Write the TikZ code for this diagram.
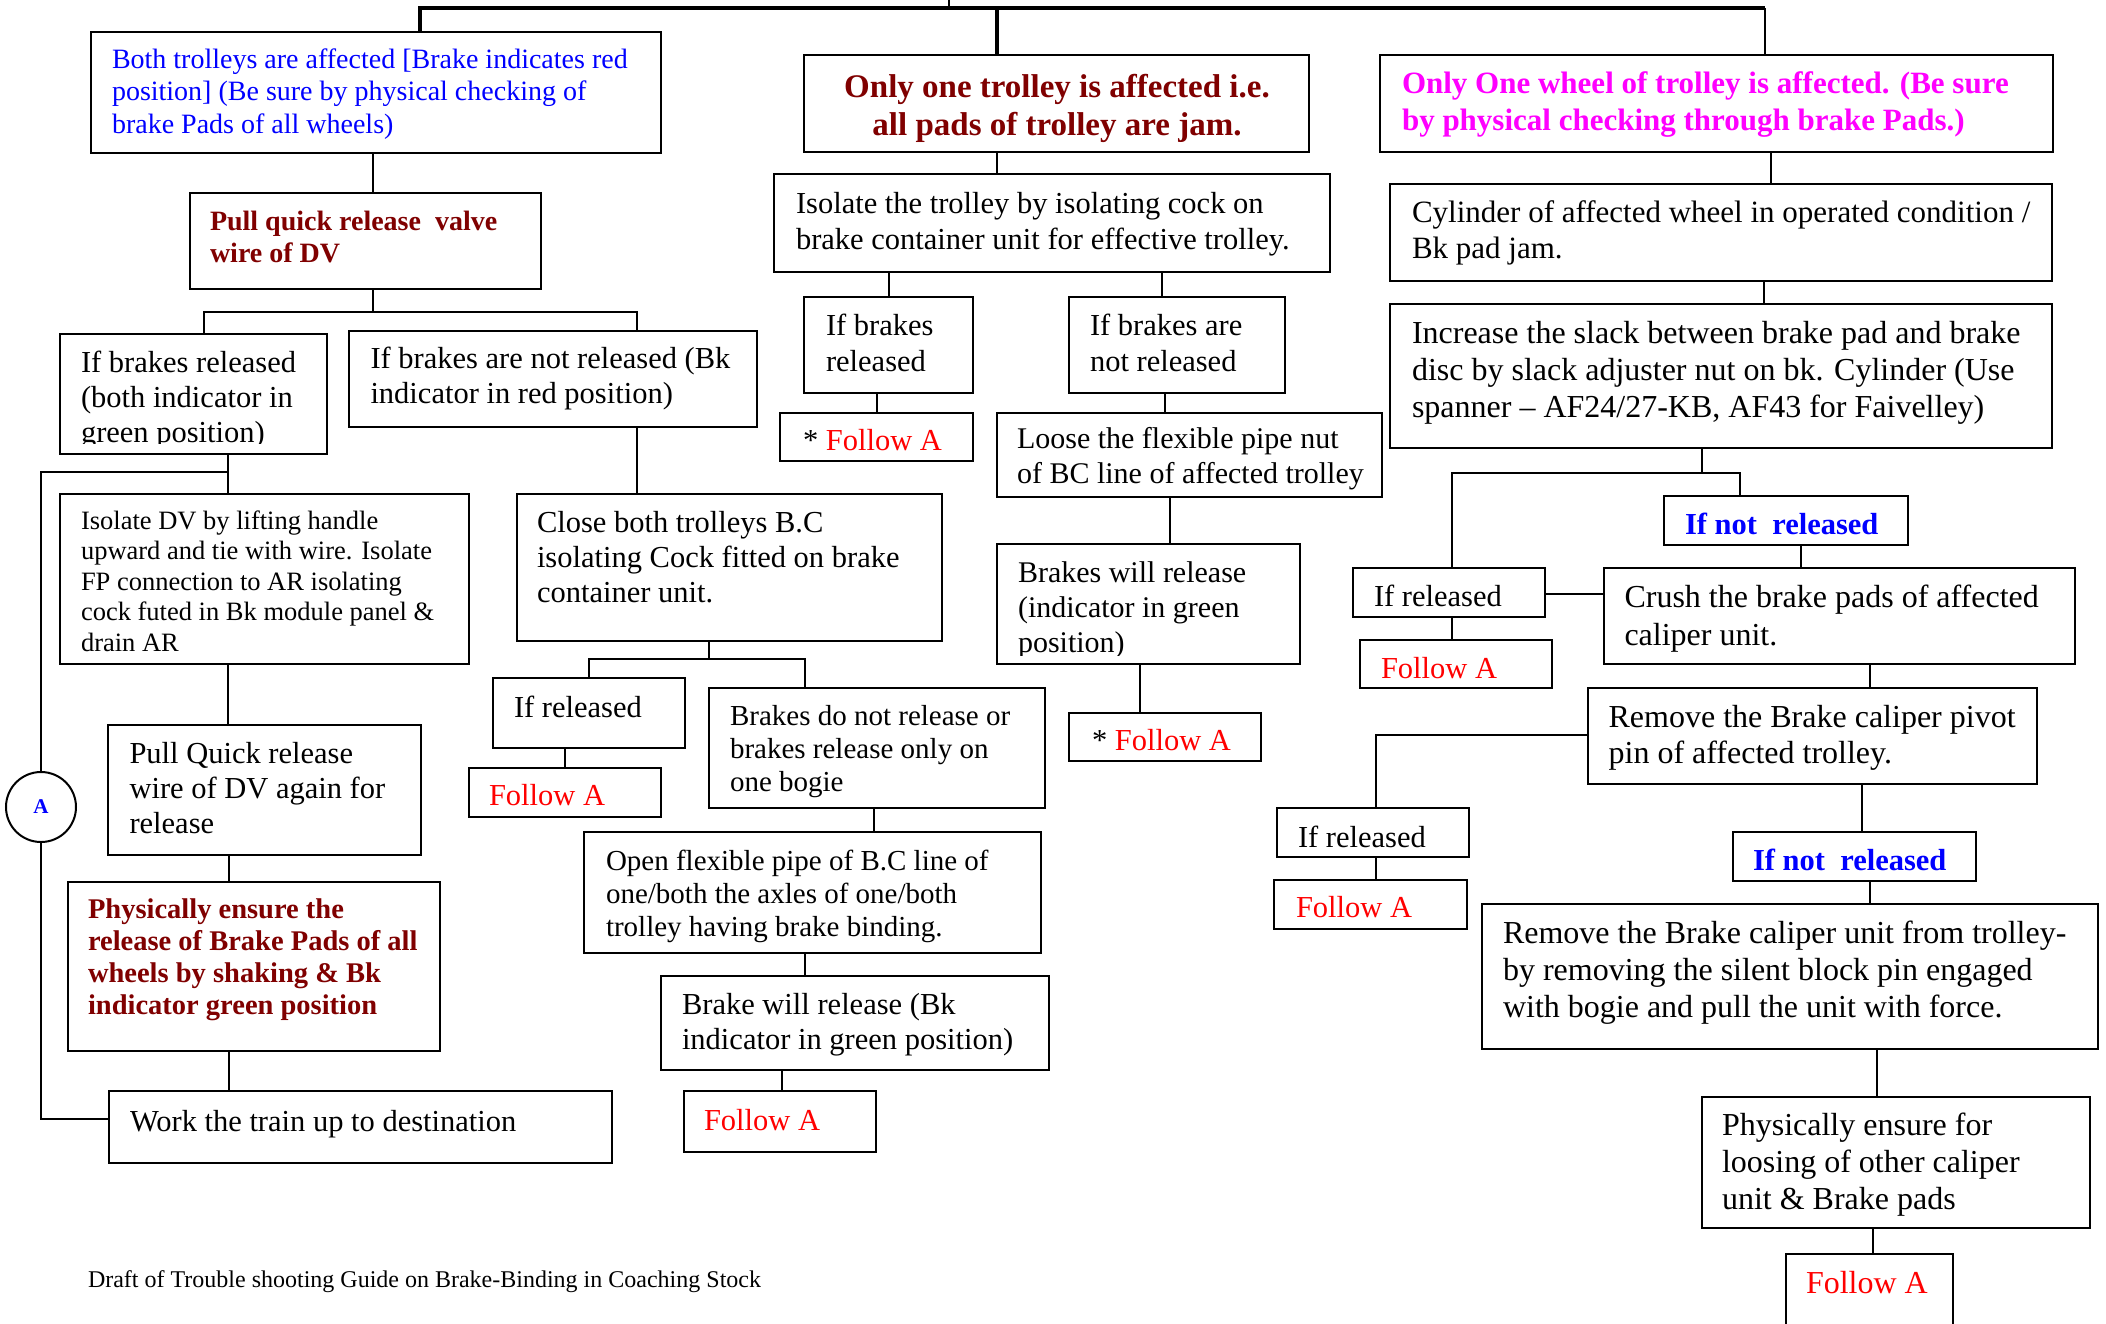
\documentclass[tikz,border=0pt]{standalone}
\usepackage{fontspec}
\setmainfont{Liberation Serif}
\usetikzlibrary{fit}
\definecolor{dred}{RGB}{128,0,0}
\definecolor{wblue}{RGB}{0,0,255}
\definecolor{wmag}{RGB}{255,0,255}
\definecolor{wred}{RGB}{255,0,0}
\newcommand\fs[2]{\fontsize{#1}{#2}\selectfont}
\newcommand\tl[1]{\begin{tabular}[t]{@{}l@{}}#1\end{tabular}}
\newcommand\tc[1]{\begin{tabular}[t]{@{}c@{}}#1\end{tabular}}
\newcommand\bx[5]{\node[box, fit={(#2,#3) (#4,#5)}] (#1) {};}
\newcommand\vln[3]{\draw[conn] (#1,0 |- #2) -- (#1,0 |- #3);}
\tikzset{
  box/.style={draw, line width=2.2pt, inner sep=0pt, rectangle},
  conn/.style={line width=2pt},
  bus/.style={line width=3.6pt},
  tx/.style={anchor=base west, inner sep=0pt, outer sep=0pt},
  fa/.style={tx, text=wred, font=\fs{30.5}{35}},
}
\begin{document}
\begin{tikzpicture}[x=1pt, y=-1pt]
\useasboundingbox (0,0) rectangle (2106,1323);
\clip (0,0) rectangle (2106,1323);
\fill[white] (0,0) rectangle (2106,1323);
% ---------- boxes ----------
\bx{b1}{91}{32}{661}{153}
\bx{b2}{190}{193}{541}{289}
\bx{b3}{60}{334}{327}{454}
\bx{b4}{349}{331}{757}{427}
\bx{b5}{60}{494}{469}{664}
\bx{b6}{108}{725}{421}{855}
\bx{b7}{68}{882}{440}{1051}
\bx{b8}{109}{1091}{612}{1163}
\bx{b9}{517}{494}{942}{641}
\bx{b10}{493}{678}{685}{748}
\bx{b11}{469}{768}{661}{817}
\bx{b12}{709}{688}{1045}{808}
\bx{b13}{584}{832}{1041}{953}
\bx{b14}{661}{976}{1049}{1070}
\bx{b15}{684}{1091}{876}{1152}
\bx{c1}{804}{55}{1309}{152}
\bx{c2}{774}{174}{1330}{272}
\bx{c3}{804}{297}{973}{393}
\bx{c4}{1069}{297}{1285}{393}
\bx{c5}{780}{413}{973}{461}
\bx{c6}{997}{413}{1382}{497}
\bx{c7}{997}{544}{1300}{664}
\bx{c8}{1069}{713}{1261}{761}
\bx{r1}{1380}{55}{2053}{152}
\bx{r2}{1390}{184}{2052}{281}
\bx{r3}{1390}{304}{2052}{448}
\bx{r4}{1664}{496}{1908}{545}
\bx{r5}{1353}{568}{1545}{617}
\bx{r6}{1604}{568}{2075}{664}
\bx{r7}{1360}{640}{1552}{688}
\bx{r8}{1588}{688}{2037}{784}
\bx{r9}{1277}{808}{1469}{857}
\bx{r10}{1274}{880}{1467}{929}
\bx{r11}{1733}{832}{1976}{881}
\bx{r12}{1482}{904}{2098}{1049}
\bx{r13}{1702}{1097}{2090}{1228}
\bx{r14}{1786}{1254}{1953}{1345}
\node[draw, circle, line width=2pt, minimum size=70pt, inner sep=0pt, text=wblue, font=\bfseries\fs{21}{24}] (A) at (41,807) {A};
% ---------- texts ----------
\node[tx, text=wblue, font=\fs{28}{32.5}] (b1t) at (112,68) {\tl{Both trolleys are affected [Brake indicates red\\position] (Be sure by physical checking of\\brake Pads of all wheels)}};
\node[tx, text=dred, font=\bfseries\fs{28}{32}] (b2t) at (210,230) {\tl{Pull quick release~~valve\\wire of DV}};
\begin{scope}
\clip (60,334) rectangle (327,443);
\node[tx, font=\fs{30.5}{35}] (b3t) at (81,372) {\tl{If brakes released\\(both indicator in\\green position)}};
\end{scope}
\node[tx, font=\fs{30.5}{35}] (b4t) at (370.5,368) {\tl{If brakes are not released (Bk\\indicator in red position)}};
\node[tx, font=\fs{26.5}{30.6}] (b5t) at (81,529) {\tl{Isolate DV by lifting handle\\upward and tie with wire. Isolate\\FP connection to AR isolating\\cock futed in Bk module panel \&\\drain AR}};
\node[tx, font=\fs{30.5}{35}] (b6t) at (129.5,763) {\tl{Pull Quick release\\wire of DV again for\\release}};
\node[tx, text=dred, font=\bfseries\fs{28.5}{32.3}] (b7t) at (88,918) {\tl{Physically ensure the\\release of Brake Pads of all\\wheels by shaking \& Bk\\indicator green position}};
\node[tx, font=\fs{30.5}{35}] (b8t) at (130,1131) {Work the train up to destination};
\node[tx, font=\fs{30.5}{35}] (b9t) at (537,532) {\tl{Close both trolleys B.C\\isolating Cock fitted on brake\\container unit.}};
\node[tx, font=\fs{30.5}{35}] (b10t) at (514,717) {If released};
\node[fa] (b11t) at (489,805) {Follow A};
\node[tx, font=\fs{29}{33.3}] (b12t) at (730,725) {\tl{Brakes do not release or\\brakes release only on\\one bogie}};
\node[tx, font=\fs{29}{33}] (b13t) at (606,870) {\tl{Open flexible pipe of B.C line of\\one/both the axles of one/both\\trolley having brake binding.}};
\node[tx, font=\fs{30.5}{35}] (b14t) at (682,1014) {\tl{Brake will release (Bk\\indicator in green position)}};
\node[fa] (b15t) at (704,1130) {Follow A};
\node[anchor=base, inner sep=0pt, text=dred, font=\bfseries\fs{33}{38}] (c1t) at (1057,97) {\tc{Only one trolley is affected i.e.\\all pads of trolley are jam.}};
\node[tx, font=\fs{30.5}{36}] (c2t) at (796,213) {\tl{Isolate the trolley by isolating cock on\\brake container unit for effective trolley.}};
\node[tx, font=\fs{30.5}{36}] (c3t) at (826,335) {\tl{If brakes\\released}};
\node[tx, font=\fs{30.5}{36}] (c4t) at (1090,335) {\tl{If brakes are\\not released}};
\node[tx, font=\fs{30.5}{35}] (c5t) at (803,450) {* \textcolor{wred}{Follow A}};
\begin{scope}
\clip (997,413) rectangle (1382,489);
\node[tx, font=\fs{30}{35}] (c6t) at (1017,448) {\tl{Loose the flexible pipe nut\\of BC line of affected trolley}};
\end{scope}
\begin{scope}
\clip (997,544) rectangle (1300,655);
\node[tx, font=\fs{30}{35}] (c7t) at (1018,582) {\tl{Brakes will release\\(indicator in green\\position)}};
\end{scope}
\node[tx, font=\fs{30.5}{35}] (c8t) at (1092,750) {* \textcolor{wred}{Follow A}};
\node[tx, text=wmag, font=\bfseries\fs{31}{37}] (r1t) at (1402,93) {\tl{Only One wheel of trolley is affected. (Be sure\\by physical checking through brake Pads.)}};
\node[tx, font=\fs{31}{36}] (r2t) at (1412,222) {\tl{Cylinder of affected wheel in operated condition /\\Bk pad jam.}};
\node[tx, font=\fs{32}{37}] (r3t) at (1412,343) {\tl{Increase the slack between brake pad and brake\\disc by slack adjuster nut on bk. Cylinder (Use\\spanner -- AF24/27-KB, AF43 for Faivelley)}};
\node[tx, text=wblue, font=\bfseries\fs{30.5}{35}] (r4t) at (1685,534) {If not~~released};
\node[tx, font=\fs{30.5}{35}] (r5t) at (1374,606) {If released};
\node[tx, font=\fs{32}{38}] (r6t) at (1624.5,607) {\tl{Crush the brake pads of affected\\caliper unit.}};
\node[fa] (r7t) at (1381,678) {Follow A};
\node[tx, font=\fs{32}{36}] (r8t) at (1608.6,727) {\tl{Remove the Brake caliper pivot\\pin of affected trolley.}};
\node[tx, font=\fs{30.5}{35}] (r9t) at (1298,847) {If released};
\node[fa] (r10t) at (1296,917) {Follow A};
\node[tx, text=wblue, font=\bfseries\fs{30.5}{35}] (r11t) at (1753,870) {If not~~released};
\node[tx, font=\fs{32}{37}] (r12t) at (1503,943) {\tl{Remove the Brake caliper unit from trolley-\\by removing the silent block pin engaged\\with bogie and pull the unit with force.}};
\node[tx, font=\fs{32}{37}] (r13t) at (1722,1135) {\tl{Physically ensure for\\loosing of other caliper\\unit \& Brake pads}};
\node[tx, text=wred, font=\fs{32}{37}] (r14t) at (1806,1293) {Follow A};
\node[tx, font=\fs{24}{28}] (foot) at (88,1287) {Draft of Trouble shooting Guide on Brake-Binding in Coaching Stock};
% ---------- connectors ----------
\coordinate (busL) at (420,8);
\coordinate (busC) at (997,8);
\coordinate (busR) at (1765,8);
\coordinate (tick) at (949,0);
\draw[bus] (busL |- b1.north) -- (busL) -- (busR);
\draw[bus] (busC) -- (busC |- c1.north);
\draw[conn] (busR) -- (busR |- r1.north);
\draw[conn] (tick) -- (tick |- busL);
% left column
\vln{373}{b1.south}{b2.north}
\coordinate (s1) at (373,312);
\coordinate (s1L) at (204,312);
\coordinate (s1R) at (637,312);
\draw[conn] (s1 |- b2.south) -- (s1);
\draw[conn] (s1L |- b3.north) -- (s1L) -- (s1R) -- (s1R |- b4.north);
\vln{228}{b3.south}{b5.north}
\coordinate (lp) at (228,472);
\coordinate (lw) at (41,1119);
\draw[conn] (lp) -- (lp -| A.north) -- (A.north);
\draw[conn] (A.south) -- (lw) -- (lw -| b8.west);
\vln{228}{b5.south}{b6.north}
\vln{229}{b6.south}{b7.north}
\vln{229}{b7.south}{b8.north}
\vln{637}{b4.south}{b9.north}
\coordinate (s2) at (709,659);
\coordinate (s2L) at (589,659);
\coordinate (s2R) at (805,659);
\draw[conn] (s2 |- b9.south) -- (s2);
\draw[conn] (s2L |- b10.north) -- (s2L) -- (s2R) -- (s2R |- b12.north);
\vln{565}{b10.south}{b11.north}
\vln{874}{b12.south}{b13.north}
\vln{805}{b13.south}{b14.north}
\vln{782}{b14.south}{b15.north}
% centre column
\vln{997}{c1.south}{c2.north}
\vln{889}{c2.south}{c3.north}
\vln{1162}{c2.south}{c4.north}
\vln{877}{c3.south}{c5.north}
\vln{1165}{c4.south}{c6.north}
\vln{1170}{c6.south}{c7.north}
\vln{1140}{c7.south}{c8.north}
% right column
\vln{1771}{r1.south}{r2.north}
\vln{1764}{r2.south}{r3.north}
\coordinate (s3) at (1702,473);
\coordinate (s3L) at (1452,473);
\coordinate (s3R) at (1740,473);
\draw[conn] (s3 |- r3.south) -- (s3);
\draw[conn] (s3L |- r5.north) -- (s3L) -- (s3R) -- (s3R |- r4.north);
\vln{1801}{r4.south}{r6.north}
\coordinate (h5) at (1575,594);
\draw[conn] (r5.east |- h5) -- (r6.west |- h5);
\vln{1452}{r5.south}{r7.north}
\vln{1870}{r6.south}{r8.north}
\coordinate (s4) at (1376,735);
\draw[conn] (r8.west |- s4) -- (s4) -- (s4 |- r9.north);
\vln{1376}{r9.south}{r10.north}
\vln{1862}{r8.south}{r11.north}
\vln{1870}{r11.south}{r12.north}
\vln{1877}{r12.south}{r13.north}
\vln{1873}{r13.south}{r14.north}
\end{tikzpicture}
\end{document}
